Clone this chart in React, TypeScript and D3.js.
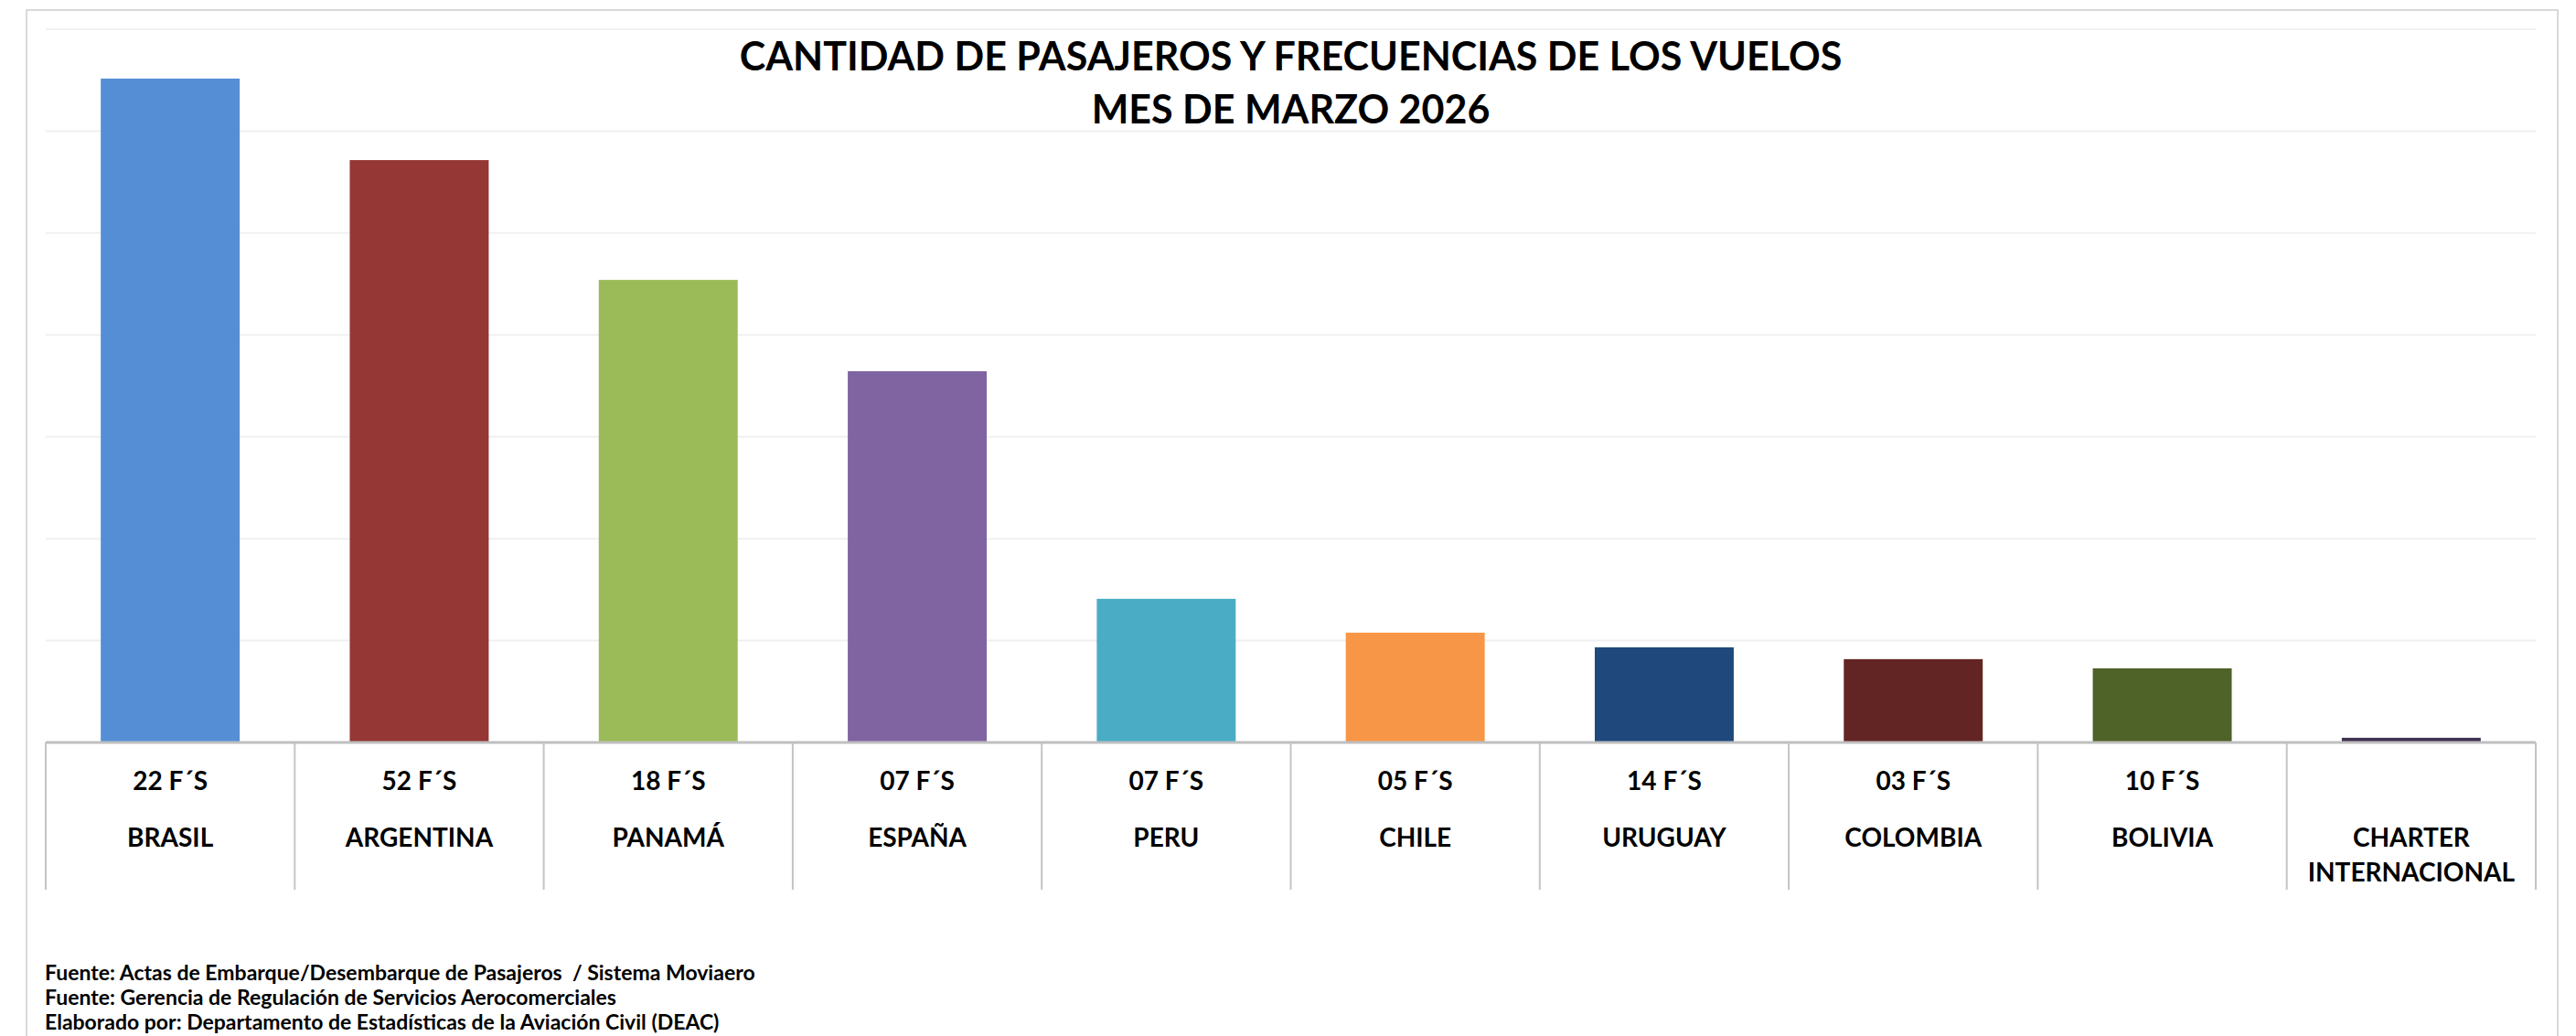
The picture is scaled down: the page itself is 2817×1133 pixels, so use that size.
import React from "react";
import * as d3 from "d3";

// categories (countries) and their monthly frequencies
const paises = ["BRASIL", "ARGENTINA", "PANAMÁ", "ESPAÑA", "PERU", "CHILE", "URUGUAY", "COLOMBIA", "BOLIVIA", "CHARTER INTERNACIONAL"];
const frecuencias = ["22 F´S", "52 F´S", "18 F´S", "07 F´S", "07 F´S", "05 F´S", "14 F´S", "03 F´S", "10 F´S", ""];
// passengers (no axis labels in the source)
const pasajeros = [32580, 28580, 22700, 18220, 7050, 5390, 4670, 4090, 3640, 230];
const colores = ["#558ED5", "#953735", "#9BBB59", "#8064A2", "#4BACC6", "#F79646", "#1F497D", "#632523", "#4F6228", "#3F3151"];
const yTicks = [0, 5000, 10000, 15000, 20000, 25000, 30000, 35000];

const titulo = ["CANTIDAD DE PASAJEROS Y FRECUENCIAS DE LOS VUELOS", "MES DE MARZO 2026"];
const notas = [
    "Fuente: Actas de Embarque/Desembarque de Pasajeros  / Sistema Moviaero",
    "Fuente: Gerencia de Regulación de Servicios Aerocomerciales",
    "Elaborado por: Departamento de Estadísticas de la Aviación Civil (DEAC)",
];

const W = 2817;
const H = 1133;
const margin = { top: 32, left: 50, right: 44, bottom: 321 };
const font = "Lato, 'Open Sans', sans-serif";

export default function App() {
    const x = d3
        .scaleBand()
        .domain(paises)
        .range([margin.left, W - margin.right])
        .paddingInner(0.442)
        .paddingOuter(0.221);

    const y = d3
        .scaleLinear()
        .domain([0, d3.max(yTicks)])
        .range([H - margin.bottom, margin.top]);

    const y0 = y(0);
    const step = x.step();
    const midX = (margin.left + W - margin.right) / 2;

    return (
        <svg width={W} height={H} style={{ position: "absolute", left: 0, top: 0, display: "block", background: "#fff" }}>
            {/* chart area border */}
            <rect x={29} y={11} width={2768} height={1200} fill="#fff" stroke="#d9d9d9" strokeWidth={2} />

            {/* gridlines */}
            {yTicks.filter((t) => t > 0).map((t) => (
                <line key={t} x1={margin.left} x2={W - margin.right} y1={y(t)} y2={y(t)} stroke="#f0f0f0" strokeWidth={2} />
            ))}

            {/* bars */}
            {paises.map((p, i) => (
                <rect
                    key={p}
                    x={x(p)}
                    y={y(pasajeros[i])}
                    width={x.bandwidth()}
                    height={y0 - y(pasajeros[i])}
                    fill={colores[i]}
                />
            ))}

            {/* category axis with boxed labels */}
            <line x1={margin.left} x2={W - margin.right} y1={y0} y2={y0} stroke="#bfbfbf" strokeWidth={3} />
            {d3.range(paises.length + 1).map((i) => (
                <line
                    key={i}
                    x1={margin.left + i * step}
                    x2={margin.left + i * step}
                    y1={y0}
                    y2={973}
                    stroke="#c4c4c4"
                    strokeWidth={2}
                />
            ))}
            {paises.map((p, i) => {
                const cx = (x(p) as number) + x.bandwidth() / 2;
                const words = p === "CHARTER INTERNACIONAL" ? ["CHARTER", "INTERNACIONAL"] : [p];
                return (
                    <g key={p} fontFamily={font} fontWeight="bold" fontSize={28} textAnchor="middle" fill="#000">
                        <text x={cx} y={864}>{frecuencias[i]}</text>
                        {words.map((w, j) => (
                            <text key={w} x={cx} y={926 + j * 38}>{w}</text>
                        ))}
                    </g>
                );
            })}

            {/* title */}
            <g fontFamily={font} fontWeight="bold" fontSize={43} textAnchor="middle" fill="#000">
                <text x={midX} y={77}>{titulo[0]}</text>
                <text x={midX} y={135}>{titulo[1]}</text>
            </g>

            {/* notes */}
            <g fontFamily={font} fontWeight="bold" fontSize={23} fill="#000">
                {notas.map((n, i) => (
                    <text key={i} x={49} y={1072 + i * 27} style={{ whiteSpace: "pre" }}>{n}</text>
                ))}
            </g>
        </svg>
    );
}
